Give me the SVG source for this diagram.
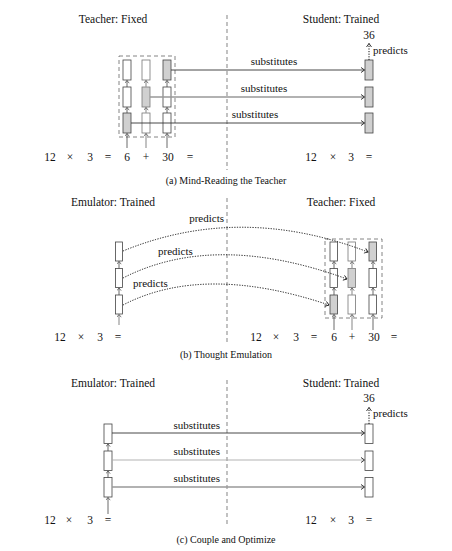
<svg xmlns="http://www.w3.org/2000/svg" width="452" height="551" viewBox="0 0 452 551" font-family="'Liberation Serif', 'DejaVu Serif', serif">
<defs>
<marker id="ah" markerUnits="userSpaceOnUse" markerWidth="8" markerHeight="8" refX="4" refY="3" orient="auto">
<path d="M0.5,0.5 L4,3 L0.5,5.5" fill="none" stroke="#222" stroke-width="0.9"/>
</marker>
<marker id="ahs" markerUnits="userSpaceOnUse" markerWidth="6" markerHeight="6" refX="3" refY="2.5" orient="auto">
<path d="M0.3,0.3 L3,2.5 L0.3,4.7" fill="none" stroke="#444" stroke-width="0.7"/>
</marker>
<style>
text{font-family:'Liberation Serif','DejaVu Serif',serif;fill:#111;}
.t{font-size:11.5px;text-anchor:middle;}
.m{font-size:11.5px;text-anchor:middle;}
.l{font-size:11px;}
.c{font-size:10px;text-anchor:middle;}
.box{fill:#fff;stroke:#444;stroke-width:0.8;}
.sh{fill:#d0d0d0;stroke:#444;stroke-width:0.8;}
.lt{stroke:#777;}
.div{stroke:#999;stroke-width:1.2;stroke-dasharray:4 3;fill:none;}
.grp{stroke:#666;stroke-width:0.8;stroke-dasharray:4 3;fill:none;}
.in{stroke:#444;stroke-width:0.8;fill:none;marker-end:url(#ahs);}
.in2{stroke:#999;stroke-width:1.2;fill:none;marker-end:url(#ahs);}
.sub{stroke:#333;stroke-width:0.9;fill:none;marker-end:url(#ah);}
.subl{stroke:#aaa;stroke-width:0.9;fill:none;marker-end:url(#ah);}
.subt{stroke:#999;stroke-width:1.6;fill:none;marker-end:url(#ah);}
.dot{stroke:#111;stroke-width:1;stroke-dasharray:1.2 1.4;fill:none;marker-end:url(#ah);}
</style>
</defs>

<!-- ===== Panel (a) ===== -->
<g id="panel-a">
<text class="t" x="113" y="23">Teacher: Fixed</text>
<text class="t" x="341" y="23">Student: Trained</text>
<line class="div" x1="227" y1="15" x2="227" y2="170"/>
<rect class="grp" x="119" y="56" width="56" height="81"/>
<g id="a-t-c1r1"><rect class="sh" x="123" y="113" width="8" height="20"/></g>
<g id="a-t-c1r2"><rect class="box" x="123" y="87" width="8" height="20"/></g>
<g id="a-t-c1r3"><rect class="box" x="123" y="60" width="8" height="20"/></g>
<g id="a-t-c2r1"><rect class="box lt" x="142" y="113" width="8" height="20"/></g>
<g id="a-t-c2r2"><rect class="sh lt" x="142" y="87" width="8" height="20"/></g>
<g id="a-t-c2r3"><rect class="box lt" x="142" y="60" width="8" height="20"/></g>
<g id="a-t-c3r1"><rect class="box" x="163" y="113" width="8" height="20"/></g>
<g id="a-t-c3r2"><rect class="box" x="163" y="87" width="8" height="20"/></g>
<g id="a-t-c3r3"><rect class="sh" x="163" y="60" width="8" height="20"/></g>
<g id="a-s-r1"><rect class="sh" x="365" y="113" width="8" height="20"/></g>
<g id="a-s-r2"><rect class="sh" x="365" y="87" width="8" height="20"/></g>
<g id="a-s-r3"><rect class="sh" x="365" y="60" width="8" height="20"/></g>
<g id="a-36"><text class="m" x="369" y="39">36</text></g>
<g id="a-math">
<text class="m" x="50" y="161">12</text><text class="m" x="70" y="161">×</text><text class="m" x="90" y="161">3</text><text class="m" x="108" y="161">=</text>
<text class="m" x="127" y="161">6</text><text class="m" x="146" y="161">+</text><text class="m" x="168" y="161">30</text><text class="m" x="190" y="161">=</text>
<text class="m" x="311" y="161">12</text><text class="m" x="333" y="161">×</text><text class="m" x="351" y="161">3</text><text class="m" x="369" y="161">=</text>
</g>
<g id="a-connectors">
<path class="in" d="M127,148 V133.5"/><path class="in2" d="M146,148 V133.5"/><path class="in" d="M167,148 V133.5"/>
<path class="in" d="M127,113 V107.5"/><path class="in" d="M127,87 V80.5"/>
<path class="in2" d="M146,113 V107.5"/><path class="in2" d="M146,87 V80.5"/>
<path class="in" d="M167,113 V107.5"/><path class="in" d="M167,87 V80.5"/>
<path class="sub" d="M171,70 H364.5"/>
<path class="subt" d="M150,97 H364.5"/>
<path class="sub" d="M131,123 H364.5"/>
<path class="dot" d="M369,60 V43.5"/>
<text class="l" x="274" y="65" text-anchor="middle">substitutes</text>
<text class="l" x="264" y="92" text-anchor="middle">substitutes</text>
<text class="l" x="255" y="118" text-anchor="middle">substitutes</text>
<text class="l" x="373" y="54">predicts</text>
</g>
<text class="c" x="226" y="184">(a) Mind-Reading the Teacher</text>
</g>

<!-- ===== Panel (b) ===== -->
<g id="panel-b">
<text class="t" x="113" y="206">Emulator: Trained</text>
<text class="t" x="341" y="206">Teacher: Fixed</text>
<line class="div" x1="227" y1="198" x2="227" y2="345"/>
<g id="b-e-r1"><rect class="box" x="115.5" y="295" width="7" height="19"/></g>
<g id="b-e-r2"><rect class="box" x="115.5" y="268.5" width="7" height="19"/></g>
<g id="b-e-r3"><rect class="box" x="115.5" y="242" width="7" height="19"/></g>
<rect class="grp" x="325" y="239" width="57" height="79"/>
<g id="b-t-c1r1"><rect class="sh" x="330" y="295" width="7.5" height="19"/></g>
<g id="b-t-c1r2"><rect class="box" x="330" y="268.5" width="7.5" height="19"/></g>
<g id="b-t-c1r3"><rect class="box" x="330" y="242" width="7.5" height="19"/></g>
<g id="b-t-c2r1"><rect class="box lt" x="348" y="295" width="7.5" height="19"/></g>
<g id="b-t-c2r2"><rect class="sh lt" x="348" y="268.5" width="7.5" height="19"/></g>
<g id="b-t-c2r3"><rect class="box lt" x="348" y="242" width="7.5" height="19"/></g>
<g id="b-t-c3r1"><rect class="box" x="369" y="295" width="7.5" height="19"/></g>
<g id="b-t-c3r2"><rect class="box" x="369" y="268.5" width="7.5" height="19"/></g>
<g id="b-t-c3r3"><rect class="sh" x="369" y="242" width="7.5" height="19"/></g>
<g id="b-math">
<text class="m" x="60" y="341">12</text><text class="m" x="81" y="341">×</text><text class="m" x="100" y="341">3</text><text class="m" x="118" y="341">=</text>
<text class="m" x="256" y="341">12</text><text class="m" x="276" y="341">×</text><text class="m" x="296" y="341">3</text><text class="m" x="314" y="341">=</text>
<text class="m" x="334" y="341">6</text><text class="m" x="352" y="341">+</text><text class="m" x="374" y="341">30</text><text class="m" x="394" y="341">=</text>
</g>
<g id="b-connectors">
<path class="in2" d="M119,325 V314.5"/>
<path class="in" d="M119,295 V288"/><path class="in" d="M119,268.5 V261.5"/>
<path class="in" d="M334,330 V314.5"/><path class="in2" d="M352,330 V314.5"/><path class="in" d="M373,330 V314.5"/>
<path class="in" d="M334,295 V288"/><path class="in" d="M334,268.5 V261.5"/>
<path class="in2" d="M352,295 V288"/><path class="in2" d="M352,268.5 V261.5"/>
<path class="in" d="M373,295 V288"/><path class="in" d="M373,268.5 V261.5"/>
<path class="dot" d="M123,251 Q240,203 368,252"/>
<path class="dot" d="M123,278 Q215,231 347,279"/>
<path class="dot" d="M123,305 Q204,263 329,305"/>
<text class="l" x="224" y="222" text-anchor="end">predicts</text>
<text class="l" x="158" y="255">predicts</text>
<text class="l" x="133" y="287">predicts</text>
</g>
<text class="c" x="226" y="358">(b) Thought Emulation</text>
</g>

<!-- ===== Panel (c) ===== -->
<g id="panel-c">
<text class="t" x="113" y="387">Emulator: Trained</text>
<text class="t" x="341" y="387">Student: Trained</text>
<line class="div" x1="227" y1="380" x2="227" y2="525"/>
<g id="c-e-r1"><rect class="box" x="104" y="477.5" width="8" height="19.5"/></g>
<g id="c-e-r2"><rect class="box" x="104" y="451" width="8" height="19.5"/></g>
<g id="c-e-r3"><rect class="box" x="104" y="424" width="8" height="19.5"/></g>
<g id="c-s-r1"><rect class="box" x="365" y="477.5" width="8" height="19.5"/></g>
<g id="c-s-r2"><rect class="box" x="365" y="451" width="8" height="19.5"/></g>
<g id="c-s-r3"><rect class="box" x="365" y="424" width="8" height="19.5"/></g>
<g id="c-36"><text class="m" x="369" y="402">36</text></g>
<g id="c-math">
<text class="m" x="50" y="524">12</text><text class="m" x="69" y="524">×</text><text class="m" x="90" y="524">3</text><text class="m" x="108" y="524">=</text>
<text class="m" x="311" y="524">12</text><text class="m" x="333" y="524">×</text><text class="m" x="351" y="524">3</text><text class="m" x="369" y="524">=</text>
</g>
<g id="c-connectors">
<path class="in" d="M108,514 V497.5"/>
<path class="in" d="M108,477.5 V471"/><path class="in" d="M108,451 V444"/>
<path class="sub" d="M112,433 H364.5"/>
<path class="subl" d="M112,460 H364.5"/>
<path class="subt" d="M112,487 H364.5"/>
<path class="dot" d="M369,424 V407.5"/>
<text class="l" x="220" y="429" text-anchor="end">substitutes</text>
<text class="l" x="220" y="455" text-anchor="end">substitutes</text>
<text class="l" x="220" y="482" text-anchor="end">substitutes</text>
<text class="l" x="373" y="417">predicts</text>
</g>
<text class="c" x="226" y="543">(c) Couple and Optimize</text>
</g>
</svg>
